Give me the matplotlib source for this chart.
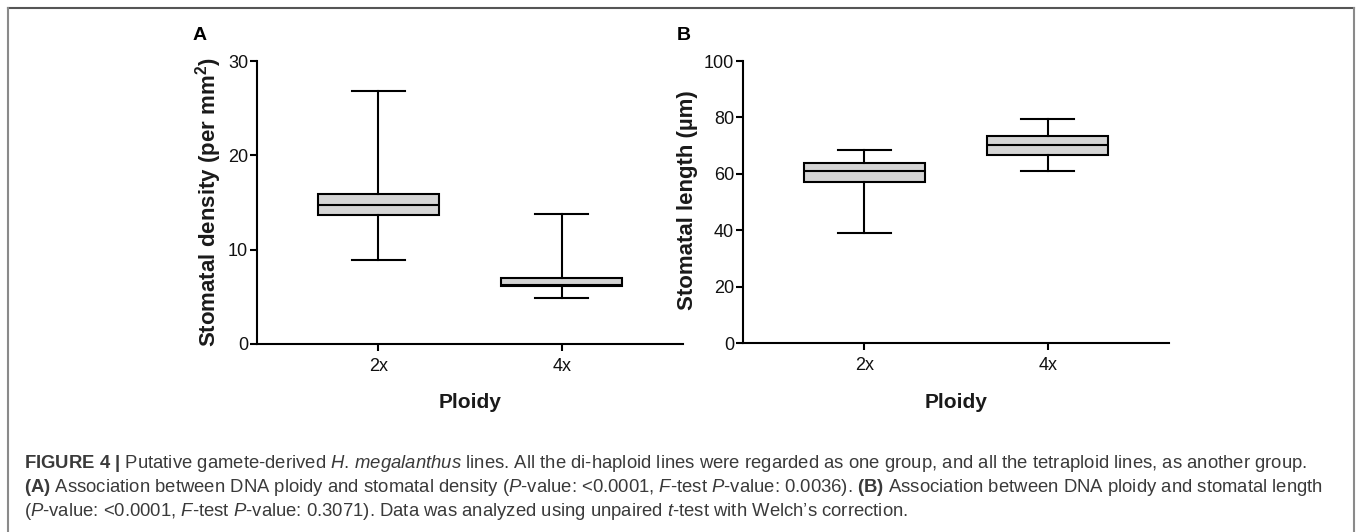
import matplotlib
matplotlib.use("Agg")
from matplotlib import pyplot as plt
from matplotlib.lines import Line2D

plt.rcParams["font.family"] = ["Liberation Sans", "DejaVu Sans"]
plt.rcParams["mathtext.fontset"] = "custom"
plt.rcParams["mathtext.rm"] = "Liberation Sans"
plt.rcParams["mathtext.it"] = "Liberation Sans:italic"
plt.rcParams["mathtext.bf"] = "Liberation Sans:bold"

# data
ploidy = ["2x", "4x"]

# panel A: stomatal density (per mm2)
densityLow = [8.9, 4.9]
densityQ1 = [13.7, 6.1]
densityMed = [14.7, 6.3]
densityQ3 = [15.9, 7.0]
densityHigh = [26.85, 13.75]
densityTicks = [0, 10, 20, 30]

# panel B: stomatal length (um)
lengthLow = [39.0, 61.1]
lengthQ1 = [57.2, 66.7]
lengthMed = [61.1, 70.4]
lengthQ3 = [63.9, 73.4]
lengthHigh = [68.5, 79.6]
lengthTicks = [0, 20, 40, 60, 80, 100]

W, H = 1357, 532


def fx(x):
    return x / W


def fy(y):
    return 1 - y / H


def MakeStats(low, q1, med, q3, high):
    stats = []
    for i in range(len(low)):
        stats.append(dict(whislo=low[i], q1=q1[i], med=med[i], q3=q3[i],
                          whishi=high[i], fliers=[]))
    return stats


def DrawPanel(ax, stats, ticks):
    lineStyle = dict(color="black", linewidth=1.5)
    ax.bxp(stats, positions=[1, 2], widths=0.66, capwidths=0.29,
           patch_artist=True, showfliers=False,
           boxprops=dict(facecolor="#d4d4d4", edgecolor="black", linewidth=1.5),
           medianprops=lineStyle, whiskerprops=lineStyle, capprops=lineStyle)
    ax.set_xlim(0.34, 2.66)
    ax.set_ylim(ticks[0], ticks[-1])
    ax.set_yticks(ticks)
    ax.set_xticks([1, 2])
    ax.set_xticklabels(ploidy)
    for side in ["top", "right"]:
        ax.spines[side].set_visible(False)
    for side in ["left", "bottom"]:
        ax.spines[side].set_linewidth(1.5)
    ax.tick_params(axis="both", length=5, width=1.5, labelsize=13,
                   labelcolor="#111111")
    ax.tick_params(axis="y", pad=1.5)
    ax.tick_params(axis="x", pad=5)


fig = plt.figure(figsize=(W / 100, H / 100), dpi=100)

axA = fig.add_axes([fx(257), fy(344), fx(683) - fx(257), fy(61) - fy(344)])
DrawPanel(axA, MakeStats(densityLow, densityQ1, densityMed, densityQ3, densityHigh), densityTicks)

axB = fig.add_axes([fx(743), fy(343.3), fx(1169) - fx(743), fy(61) - fy(343.3)])
DrawPanel(axB, MakeStats(lengthLow, lengthQ1, lengthMed, lengthQ3, lengthHigh), lengthTicks)

# axis titles
fig.text(fx(209), fy(202), r"Stomatal density (per mm$^\mathbf{2}$)", rotation=90,
         ha="center", va="center", fontsize=16, fontweight="bold", color="#1a1a1a")
fig.text(fx(688), fy(200), "Stomatal length (\u00b5m)", rotation=90,
         ha="center", va="center", fontsize=16, fontweight="bold", color="#1a1a1a")
fig.text(fx(470), fy(408), "Ploidy", ha="center", va="baseline",
         fontsize=15, fontweight="bold", color="#1a1a1a")
fig.text(fx(956), fy(408), "Ploidy", ha="center", va="baseline",
         fontsize=15, fontweight="bold", color="#1a1a1a")

# panel letters
fig.text(fx(200), fy(35), "A", ha="center", va="center", fontsize=14, fontweight="bold")
fig.text(fx(684), fy(35), "B", ha="center", va="center", fontsize=14, fontweight="bold")

# caption
captionLines = [
    r"$\bf{FIGURE\ 4\ |}$ Putative gamete-derived $\it{H.\,megalanthus}$ lines. All the di-haploid lines "
    r"were regarded as one group, and all the tetraploid lines, as another group.",
    r"$\bf{(A)}$ Association between DNA ploidy and stomatal density ($\it{P}$-value: <0.0001, "
    r"$\it{F}$-test $\it{P}$-value: 0.0036). $\bf{(B)}$ Association between DNA ploidy and stomatal length",
    r"($\it{P}$-value: <0.0001, $\it{F}$-test $\it{P}$-value: 0.3071). Data was analyzed using unpaired "
    r"$\it{t}$-test with Welch’s correction.",
]
captionY = [463, 488, 511]
for line, y in zip(captionLines, captionY):
    fig.text(fx(24), fy(y), line, ha="left", va="center", fontsize=13.3, color="#3a3a3a")

# frame around the figure
fig.add_artist(Line2D([fx(8), fx(1354)], [fy(8), fy(8)], transform=fig.transFigure,
                      color="#555555", linewidth=1.5))
fig.add_artist(Line2D([fx(8), fx(8)], [fy(8), fy(532)], transform=fig.transFigure,
                      color="#8a8a8a", linewidth=1.5))
fig.add_artist(Line2D([fx(1354), fx(1354)], [fy(8), fy(532)], transform=fig.transFigure,
                      color="#8a8a8a", linewidth=1.5))

fig.savefig("out.png", dpi=100)
